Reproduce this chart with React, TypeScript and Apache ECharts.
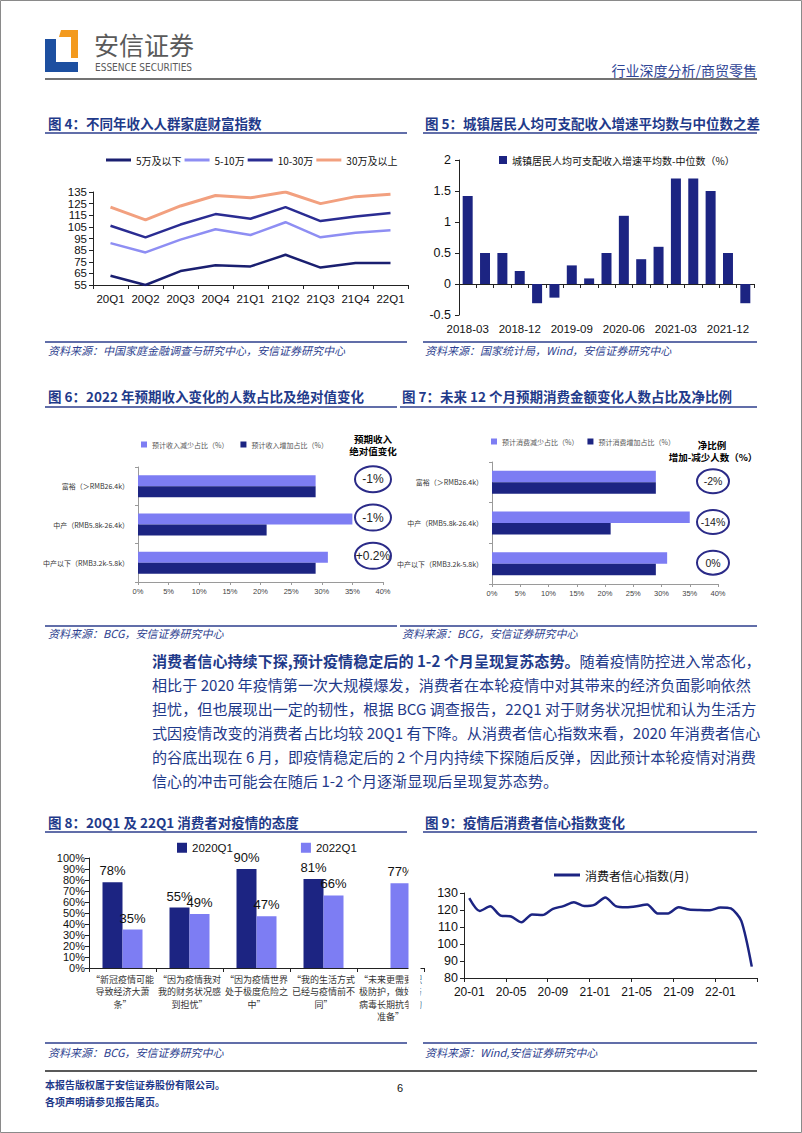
import React, { useEffect, useRef } from "react";
import * as echarts from "echarts";

// ---------------- data ----------------
const quarters = ["20Q1", "20Q2", "20Q3", "20Q4", "21Q1", "21Q2", "21Q3", "21Q4", "22Q1"];
const wealthNames = ["5万及以下", "5-10万", "10-30万", "30万及以上"];
const wealthBelow5 = [63, 55, 67, 72, 71, 81, 70, 74, 74];
const wealth5to10 = [91, 83, 94, 103, 98, 109, 96, 100, 102];
const wealth10to30 = [106, 96, 107, 116, 112, 122, 110, 114, 117];
const wealthAbove30 = [122, 111, 123, 132, 130, 135, 125, 131, 133];

const gapQuarters = [
  "2018-03", "2018-06", "2018-09", "2018-12", "2019-03", "2019-06", "2019-09", "2019-12",
  "2020-03", "2020-06", "2020-09", "2020-12", "2021-03", "2021-06", "2021-09", "2021-12", "2022-03",
];
const gapValues = [1.42, 0.5, 0.5, 0.21, -0.31, -0.22, 0.3, 0.09, 0.5, 1.1, 0.4, 0.6, 1.7, 1.7, 1.5, 0.5, -0.31];
const gapName = "城镇居民人均可支配收入增速平均数-中位数（%）";

const segments = ["富裕（＞RMB26.4k）", "中产（RMB5.8k-26.4k）", "中产以下（RMB3.2k-5.8k）"];
const incomeDownName = "预计收入减少占比（%）";
const incomeUpName = "预计收入增加占比（%）";
const incomeDown = [29, 35, 31];
const incomeUp = [29, 21, 29];
const incomeAbsChange = ["-1%", "-1%", "+0.2%"];
const spendDownName = "预计消费减少占比（%）";
const spendUpName = "预计消费增加占比（%）";
const spendDown = [29, 35, 31];
const spendUp = [29, 21, 29];
const spendNet = ["-2%", "-14%", "0%"];

const attitudes = [
  "“新冠疫情可能\n导致经济大萧\n条”",
  "“因为疫情我对\n我的财务状况感\n到担忧”",
  "“因为疫情世界\n处于极度危险之\n中”",
  "“我的生活方式\n已经与疫情前不\n同”",
  "“未来更需要积\n极防护，做好与\n病毒长期抗争的\n准备”",
];
const attitude2020 = [78, 55, 90, 81, null];
const attitude2022 = [35, 49, 47, 66, 77];

const confMonths = [
  "20-01", "20-02", "20-03", "20-04", "20-05", "20-06", "20-07", "20-08", "20-09", "20-10", "20-11", "20-12",
  "21-01", "21-02", "21-03", "21-04", "21-05", "21-06", "21-07", "21-08", "21-09", "21-10", "21-11", "21-12",
  "22-01", "22-02", "22-03", "22-04",
];
const confidence = [
  127.0, 119.4, 122.2, 116.7, 116.2, 112.8, 117.4, 117.0, 120.7, 122.3, 124.6, 122.3,
  123.2, 127.4, 122.3, 121.6, 122.2, 123.3, 118.0, 118.0, 121.6, 120.3, 120.0, 119.9,
  121.5, 120.9, 113.6, 86.7,
];

const paragraphLines = [
  "相比于 2020 年疫情第一次大规模爆发，消费者在本轮疫情中对其带来的经济负面影响依然",
  "担忧，但也展现出一定的韧性，根据 BCG 调查报告，22Q1 对于财务状况担忧和认为生活方",
  "式因疫情改变的消费者占比均较 20Q1 有下降。从消费者信心指数来看，2020 年消费者信心",
  "的谷底出现在 6 月，即疫情稳定后的 2 个月内持续下探随后反弹，因此预计本轮疫情对消费",
  "信心的冲击可能会在随后 1-2 个月逐渐显现后呈现复苏态势。",
];

// ---------------- styles ----------------
const SANS = "'Liberation Sans', 'Noto Sans CJK SC', sans-serif";
const CJK = "'Noto Sans CJK SC', 'Liberation Sans', sans-serif";
const NAVY = "#1c2482";
const LIGHT = "#7d7df3";
const BLUE_TEXT = "#1f3a8a";
const RULE = "#2c3e8c";

function txt(text: string, x: number, y: number, o: any = {}) {
  return {
    type: "text",
    x,
    y,
    z: 60,
    style: {
      text,
      fill: o.fill || "#000",
      fontSize: o.size || 12,
      fontWeight: o.weight || "normal",
      fontStyle: o.italic ? "italic" : "normal",
      fontFamily: o.family || CJK,
      align: o.align || "left",
      verticalAlign: "middle",
    },
  };
}
function hline(x1: number, x2: number, y: number, color: string, w: number) {
  return { type: "line", z: 60, shape: { x1, y1: y, x2, y2: y }, style: { stroke: color, lineWidth: w } };
}
function title(text: string, x: number, y: number) {
  return txt(text, x, y, { size: 13.5, weight: "bold", fill: BLUE_TEXT });
}
function source(text: string, x: number, y: number) {
  return txt(text, x, y, { size: 11, italic: true, fill: "#2e3f8f" });
}

const axisLineBlack = { show: true, lineStyle: { color: "#222", width: 1 } };
const axisLineGray = { show: true, lineStyle: { color: "#9a9a9a", width: 1 } };

// layout constants for annotation ellipses (fig 6 / fig 7)
const g6 = { left: 138, top: 467, width: 245, height: 115 };
const g7 = { left: 492, top: 462, width: 226, height: 122 };

function buildOption() {
  const graphics: any[] = [];
  // page frame
  graphics.push({ type: "rect", z: 1, shape: { x: 0.5, y: 0.5, width: 801, height: 1132 }, style: { fill: "none", stroke: "#8a8a8a", lineWidth: 1 } });
  // logo
  graphics.push({ type: "polygon", z: 60, shape: { points: [[45, 39], [56, 39], [56, 62], [78, 62], [78, 72], [45, 72]] }, style: { fill: "#1d4fa0" } });
  graphics.push({ type: "polygon", z: 60, shape: { points: [[61, 30], [78, 30], [78, 58], [71, 58], [71, 37], [59, 37]] }, style: { fill: "#f39a1e" } });
  graphics.push(txt("安信证券", 94, 44, { size: 25, fill: "#5a5a5a" }));
  graphics.push(txt("ESSENCE SECURITIES", 95, 67.5, { size: 10, fill: "#5a5a5a", family: "'Liberation Sans Narrow', 'DejaVu Sans Condensed', 'Liberation Sans', sans-serif" }));
  graphics.push(txt("行业深度分析/商贸零售", 757, 70, { size: 14, fill: "#2f4596", align: "right" }));
  graphics.push(hline(45, 757, 79, "#444", 1.5));

  // titles & rules
  graphics.push(title("图 4：不同年收入人群家庭财富指数", 48, 123));
  graphics.push(hline(45, 407, 133, RULE, 1.5));
  graphics.push(title("图 5：城镇居民人均可支配收入增速平均数与中位数之差", 425, 123));
  graphics.push(hline(423, 757, 133, RULE, 1.5));
  graphics.push(hline(45, 407, 342, RULE, 1.5));
  graphics.push(source("资料来源：中国家庭金融调查与研究中心，安信证券研究中心", 48, 350));
  graphics.push(hline(423, 757, 342, RULE, 1.5));
  graphics.push(source("资料来源：国家统计局，Wind，安信证券研究中心", 425, 350));

  graphics.push(title("图 6：2022 年预期收入变化的人数占比及绝对值变化", 48, 396));
  graphics.push(hline(45, 397, 407, RULE, 1.5));
  graphics.push(title("图 7：未来 12 个月预期消费金额变化人数占比及净比例", 402, 396));
  graphics.push(hline(400, 757, 407, RULE, 1.5));
  graphics.push(hline(45, 397, 626, RULE, 1.5));
  graphics.push(source("资料来源：BCG，安信证券研究中心", 48, 633));
  graphics.push(hline(400, 757, 626, RULE, 1.5));
  graphics.push(source("资料来源：BCG，安信证券研究中心", 402, 633));

  // fig 6 side notes
  graphics.push(txt("预期收入", 373, 439, { size: 9.5, weight: "bold", align: "center" }));
  graphics.push(txt("绝对值变化", 373, 451, { size: 9.5, weight: "bold", align: "center" }));
  const band6 = g6.height / segments.length;
  incomeAbsChange.forEach((t, i) => {
    const cy = g6.top + band6 * (i + 0.5) - 7;
    graphics.push({ type: "ellipse", z: 60, shape: { cx: 373, cy, rx: 18, ry: 13 }, style: { fill: "#fff", stroke: "#2b2b88", lineWidth: 2 } });
    graphics.push(txt(t, 373, cy, { size: 12, family: SANS, align: "center", fill: "#222" }));
  });
  // fig 7 side notes
  graphics.push(txt("净比例", 712, 445, { size: 9.5, weight: "bold", align: "center" }));
  graphics.push(txt("增加-减少人数（%）", 713, 457, { size: 9.5, weight: "bold", align: "center" }));
  const band7 = g7.height / segments.length;
  spendNet.forEach((t, i) => {
    const cy = g7.top + band7 * (i + 0.5) - 1;
    graphics.push({ type: "ellipse", z: 60, shape: { cx: 713, cy, rx: 16, ry: 12 }, style: { fill: "#fff", stroke: "#2b2b88", lineWidth: 2 } });
    graphics.push(txt(t, 713, cy, { size: 10.5, family: SANS, align: "center", fill: "#222" }));
  });

  // paragraph
  graphics.push({
    type: "text",
    x: 152,
    y: 660,
    z: 60,
    style: {
      text: "{b|消费者信心持续下探,预计疫情稳定后的 1-2 个月呈现复苏态势。}{n|随着疫情防控进入常态化，}",
      verticalAlign: "middle",
      rich: {
        b: { fontSize: 15.1, fontWeight: "bold", fill: BLUE_TEXT, fontFamily: CJK },
        n: { fontSize: 15.1, fill: BLUE_TEXT, fontFamily: CJK },
      },
    },
  });
  paragraphLines.forEach((l, i) => graphics.push(txt(l, 152, 684 + i * 24, { size: 15.1, fill: BLUE_TEXT })));

  graphics.push(title("图 8：20Q1 及 22Q1 消费者对疫情的态度", 48, 822));
  graphics.push(hline(45, 407, 832, RULE, 1.5));
  graphics.push(title("图 9：疫情后消费者信心指数变化", 425, 822));
  graphics.push(hline(423, 757, 832, RULE, 1.5));
  // clip of fig 8 right edge
  graphics.push({ type: "rect", z: 100, shape: { x: 408.5, y: 836, width: 12, height: 200 }, style: { fill: "#fff" } });
  graphics.push(hline(45, 407, 1043, RULE, 1.5));
  graphics.push(source("资料来源：BCG，安信证券研究中心", 48, 1052));
  graphics.push(hline(423, 757, 1043, RULE, 1.5));
  graphics.push(source("资料来源：Wind,安信证券研究中心", 425, 1052));

  // footer
  graphics.push(hline(45, 757, 1071, "#222", 1.5));
  graphics.push(txt("本报告版权属于安信证券股份有限公司。", 45, 1084, { size: 10, weight: "bold", fill: BLUE_TEXT }));
  graphics.push(txt("各项声明请参见报告尾页。", 45, 1101, { size: 10, weight: "bold", fill: BLUE_TEXT }));
  graphics.push(txt("6", 400, 1088, { size: 11, family: SANS, align: "center", fill: "#111" }));

  const catX = (gridIndex: number, data: string[], extra: any = {}) => ({
    type: "category",
    gridIndex,
    data,
    boundaryGap: true,
    axisLine: axisLineBlack,
    axisTick: { show: true, length: 4, lineStyle: { color: "#222" } },
    splitLine: { show: false },
    axisLabel: { fontFamily: SANS, fontSize: 11.5, color: "#111", margin: 8, interval: 0 },
    ...extra,
  });
  const valY = (gridIndex: number, min: number, max: number, interval: number, label: any) => ({
    type: "value", gridIndex, min, max, interval,
    axisLine: axisLineBlack, axisTick: { show: true, length: 4, lineStyle: { color: "#222" } },
    splitLine: { show: false },
    axisLabel: { color: "#111", showMinLabel: true, showMaxLabel: true, hideOverlap: false, ...label },
  });

  return {
    animation: false,
    backgroundColor: "#fff",
    textStyle: { fontFamily: SANS },
    graphic: { elements: graphics },
    legend: [
      {
        left: 101, top: 150, itemWidth: 25, itemHeight: 3, itemGap: 3, icon: "rect",
        data: wealthNames,
        textStyle: { fontFamily: CJK, fontSize: 10, color: "#111" },
      },
      {
        left: 494, top: 150, itemWidth: 8, itemHeight: 8, itemGap: 4, icon: "rect",
        data: [gapName],
        textStyle: { fontFamily: CJK, fontSize: 10, color: "#111" },
      },
      {
        left: 136, top: 436, itemWidth: 6, itemHeight: 6, itemGap: 12, icon: "rect",
        data: [incomeDownName, incomeUpName],
        textStyle: { fontFamily: CJK, fontSize: 7, color: "#555" },
      },
      {
        left: 486, top: 433, itemWidth: 6, itemHeight: 6, itemGap: 9, icon: "rect",
        data: [spendDownName, spendUpName],
        textStyle: { fontFamily: CJK, fontSize: 7, color: "#555" },
      },
      {
        left: 172, top: 837, itemWidth: 10, itemHeight: 10, itemGap: 68, icon: "rect",
        data: ["2020Q1", "2022Q1"],
        textStyle: { fontFamily: SANS, fontSize: 11.5, color: "#111" },
      },
      {
        left: 549, top: 864, itemWidth: 26, itemHeight: 3, icon: "rect",
        data: ["消费者信心指数(月)"],
        textStyle: { fontFamily: CJK, fontSize: 12, color: "#111" },
      },
    ],
    grid: [
      { left: 93, top: 192, width: 315, height: 93 },
      { left: 459, top: 160, width: 295, height: 155 },
      { ...g6 },
      { ...g7 },
      { left: 89, top: 858, width: 335, height: 110 },
      { left: 464, top: 893, width: 293, height: 85 },
    ],
    xAxis: [
      catX(0, quarters),
      catX(1, gapQuarters, {
        axisLine: { ...axisLineBlack, onZero: true },
        axisTick: { show: true, length: 4, interval: 0, lineStyle: { color: "#222" } },
        axisLabel: { fontFamily: SANS, fontSize: 11.5, color: "#111", interval: 2, margin: 8 },
      }),
      {
        type: "value", gridIndex: 2, min: 0, max: 40, interval: 5,
        axisLine: axisLineGray, axisTick: { show: true, length: 3, lineStyle: { color: "#9a9a9a" } },
        splitLine: { show: false },
        axisLabel: { formatter: "{value}%", fontSize: 7.5, color: "#444", margin: 6 },
      },
      {
        type: "value", gridIndex: 3, min: 0, max: 40, interval: 5,
        axisLine: axisLineGray, axisTick: { show: true, length: 3, lineStyle: { color: "#9a9a9a" } },
        splitLine: { show: false },
        axisLabel: { formatter: "{value}%", fontSize: 7.5, color: "#444", margin: 6 },
      },
      catX(4, attitudes, {
        axisLabel: { fontFamily: CJK, fontSize: 9, lineHeight: 12.5, color: "#333", interval: 0, margin: 5 },
      }),
      catX(5, confMonths, {
        axisTick: { show: true, length: 4, interval: 3, lineStyle: { color: "#222" } },
        axisLabel: { fontFamily: SANS, fontSize: 12, color: "#111", interval: 3, margin: 8 },
      }),
    ],
    yAxis: [
      valY(0, 55, 135, 10, { fontSize: 11.5, lineHeight: 11, margin: 6 }),
      valY(1, -0.5, 2, 0.5, { fontSize: 12.5, margin: 8 }),
      {
        type: "category", gridIndex: 2, data: segments, inverse: true,
        axisLine: axisLineGray, axisTick: { show: true, length: 3, lineStyle: { color: "#9a9a9a" } },
        axisLabel: { fontFamily: CJK, fontSize: 7, color: "#333", margin: 9 },
      },
      {
        type: "category", gridIndex: 3, data: segments, inverse: true,
        axisLine: axisLineGray, axisTick: { show: true, length: 3, lineStyle: { color: "#9a9a9a" } },
        axisLabel: { fontFamily: CJK, fontSize: 7, color: "#333", margin: 9 },
      },
      valY(4, 0, 100, 10, { formatter: "{value}%", fontSize: 11, lineHeight: 11, margin: 4 }),
      valY(5, 80, 130, 10, { fontSize: 12.5, margin: 6 }),
    ],
    series: [
      { name: wealthNames[0], type: "line", xAxisIndex: 0, yAxisIndex: 0, data: wealthBelow5, symbol: "none", lineStyle: { width: 2.5, color: "#1a1f70" }, itemStyle: { color: "#1a1f70" } },
      { name: wealthNames[1], type: "line", xAxisIndex: 0, yAxisIndex: 0, data: wealth5to10, symbol: "none", lineStyle: { width: 2.5, color: "#8e8ef3" }, itemStyle: { color: "#8e8ef3" } },
      { name: wealthNames[2], type: "line", xAxisIndex: 0, yAxisIndex: 0, data: wealth10to30, symbol: "none", lineStyle: { width: 2.5, color: "#2a2c92" }, itemStyle: { color: "#2a2c92" } },
      { name: wealthNames[3], type: "line", xAxisIndex: 0, yAxisIndex: 0, data: wealthAbove30, symbol: "none", lineStyle: { width: 3, color: "#f2a07f" }, itemStyle: { color: "#f2a07f" } },

      { name: gapName, type: "bar", xAxisIndex: 1, yAxisIndex: 1, data: gapValues, barWidth: 10, itemStyle: { color: NAVY } },

      { name: incomeDownName, type: "bar", xAxisIndex: 2, yAxisIndex: 2, data: incomeDown, barWidth: 11, barGap: "0%", itemStyle: { color: LIGHT } },
      { name: incomeUpName, type: "bar", xAxisIndex: 2, yAxisIndex: 2, data: incomeUp, barWidth: 11, barGap: "0%", itemStyle: { color: NAVY } },
      { name: spendDownName, type: "bar", xAxisIndex: 3, yAxisIndex: 3, data: spendDown, barWidth: 11.5, barGap: "0%", itemStyle: { color: LIGHT } },
      { name: spendUpName, type: "bar", xAxisIndex: 3, yAxisIndex: 3, data: spendUp, barWidth: 11.5, barGap: "0%", itemStyle: { color: NAVY } },

      {
        name: "2020Q1", type: "bar", xAxisIndex: 4, yAxisIndex: 4, data: attitude2020, barWidth: 20, barGap: "0%",
        itemStyle: { color: NAVY },
        label: { show: true, position: "top", formatter: "{c}%", fontSize: 13, color: "#111", distance: 5 },
      },
      {
        name: "2022Q1", type: "bar", xAxisIndex: 4, yAxisIndex: 4, data: attitude2022, barWidth: 20, barGap: "0%",
        itemStyle: { color: LIGHT },
        label: { show: true, position: "top", formatter: "{c}%", fontSize: 13, color: "#111", distance: 5 },
      },

      {
        name: "消费者信心指数(月)", type: "line", xAxisIndex: 5, yAxisIndex: 5, data: confidence, symbol: "none", smooth: 0.25,
        lineStyle: { width: 2.5, color: NAVY }, itemStyle: { color: NAVY },
      },
    ],
  };
}

export default function App() {
  const ref = useRef<HTMLDivElement>(null);
  useEffect(() => {
    const chart = echarts.init(ref.current!, null, { renderer: "svg", width: 802, height: 1133 });
    chart.setOption(buildOption() as any);
    return () => chart.dispose();
  }, []);
  return (
    <div
      ref={ref}
      style={{ position: "absolute", left: 0, top: 0, width: 802, height: 1133, background: "#fff" }}
    />
  );
}
